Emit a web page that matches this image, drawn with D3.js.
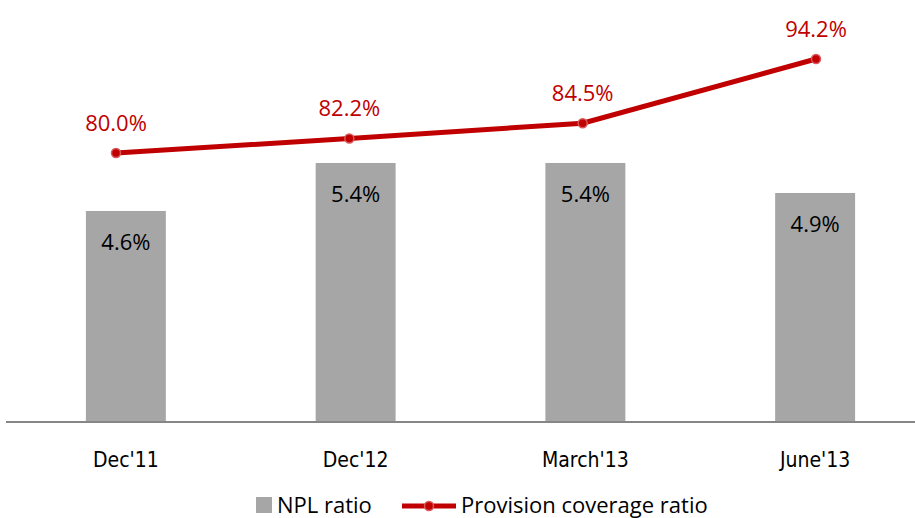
<!DOCTYPE html>
<html>
<head>
<meta charset="utf-8">
<script src="https://cdn.jsdelivr.net/npm/d3@7"></script>
<style>
  body { margin: 0; background: #fff; }
  svg text { font-family: "Open Sans", "Noto Sans", sans-serif; }
</style>
</head>
<body>
<div id="chart"></div>
<script>
// data
const categories = ["Dec'11", "Dec'12", "March'13", "June'13"];
const nplRatio = [4.6, 5.4, 5.4, 4.9];
const coverageRatio = [80.0, 82.2, 84.5, 94.2];

const width = 915, height = 518;
const baseY = 422;

const svg = d3.select('#chart').append('svg')
    .attr('width', width)
    .attr('height', height);

// bars use a band scale, line a point scale (secondary axis)
const x = d3.scaleBand().domain(categories).range([11, 930]).paddingInner(0.652).paddingOuter(0.326);
const xLine = d3.scalePoint().domain(categories).range([116, 816]);

const y = d3.scaleLinear().domain([1.083, 6]).range([baseY, baseY - 60 * (6 - 1.083)]);
const y2 = d3.scaleLinear().domain([80, 94.2]).range([153, 59]);

// bars
svg.selectAll('rect.bar')
    .data(nplRatio)
    .enter()
    .append('rect')
    .attr('class', 'bar')
    .attr('x', (d, i) => x(categories[i]))
    .attr('y', d => y(d))
    .attr('width', x.bandwidth())
    .attr('height', d => baseY - y(d))
    .style('fill', '#a6a6a6');

svg.selectAll('text.barLabel')
    .data(nplRatio)
    .enter()
    .append('text')
    .attr('class', 'barLabel')
    .attr('x', (d, i) => x(categories[i]) + x.bandwidth() / 2)
    .attr('y', d => y(d) + 39)
    .attr('text-anchor', 'middle')
    .style('font-size', '22px')
    .style('fill', '#000')
    .text(d => d.toFixed(1) + '%');

// x axis line
svg.append('line')
    .attr('x1', 6).attr('x2', width)
    .attr('y1', baseY).attr('y2', baseY)
    .style('stroke', '#868686')
    .style('stroke-width', 2);

svg.selectAll('text.tick')
    .data(categories)
    .enter()
    .append('text')
    .attr('class', 'tick')
    .attr('x', d => x(d) + x.bandwidth() / 2)
    .attr('y', 467)
    .attr('text-anchor', 'middle')
    .style('font-family', '"Liberation Sans Narrow", "DejaVu Sans Condensed", sans-serif')
    .style('font-size', '21px')
    .style('fill', '#000')
    .text(d => d);

// line
const line = d3.line()
    .x((d, i) => xLine(categories[i]))
    .y(d => y2(d));

svg.append('path')
    .datum(coverageRatio)
    .attr('d', line)
    .style('fill', 'none')
    .style('stroke', '#c00000')
    .style('stroke-width', 5);

svg.selectAll('circle.pt')
    .data(coverageRatio)
    .enter()
    .append('circle')
    .attr('class', 'pt')
    .attr('cx', (d, i) => xLine(categories[i]))
    .attr('cy', d => y2(d))
    .attr('r', 4.5)
    .style('fill', '#c00000')
    .style('stroke', '#d9575b')
    .style('stroke-width', 1.5);

svg.selectAll('text.lineLabel')
    .data(coverageRatio)
    .enter()
    .append('text')
    .attr('class', 'lineLabel')
    .attr('x', (d, i) => xLine(categories[i]))
    .attr('y', d => y2(d) - 22)
    .attr('text-anchor', 'middle')
    .style('font-size', '22px')
    .style('fill', '#c00000')
    .text(d => d.toFixed(1) + '%');

// legend
const legend = svg.append('g');
legend.append('rect')
    .attr('x', 256).attr('y', 497)
    .attr('width', 16).attr('height', 16)
    .style('fill', '#a6a6a6');
legend.append('text')
    .attr('x', 277).attr('y', 513)
    .style('font-size', '22px')
    .style('fill', '#000')
    .text('NPL ratio');
legend.append('line')
    .attr('x1', 402).attr('x2', 456)
    .attr('y1', 506).attr('y2', 506)
    .style('stroke', '#c00000')
    .style('stroke-width', 5);
legend.append('circle')
    .attr('cx', 429).attr('cy', 506).attr('r', 4.5)
    .style('fill', '#c00000')
    .style('stroke', '#d9575b')
    .style('stroke-width', 1.5);
legend.append('text')
    .attr('x', 461).attr('y', 513)
    .style('font-size', '22px')
    .style('fill', '#000')
    .text('Provision coverage ratio');
</script>
</body>
</html>
